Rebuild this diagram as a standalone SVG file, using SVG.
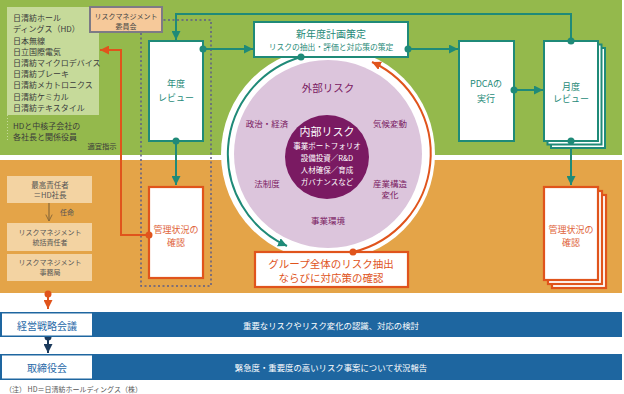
<svg xmlns="http://www.w3.org/2000/svg" width="624" height="394" viewBox="0 0 624 394">
<style>
text{font-family:"Noto Sans CJK JP","Noto Sans",sans-serif;text-anchor:middle;dominant-baseline:central}
.l{text-anchor:start}
.box{fill:#fff;stroke:#1f8a78;stroke-width:2}
.obox{fill:#fff;stroke:#e0541c;stroke-width:2.2}
.peach{fill:#f3d3a2}
.tt{fill:#1f8a78;font-size:9px}
.ot{fill:#e0643a;font-size:9px}
.list{fill:#3a3a3a;font-size:8px}
.pt{fill:#7a1a62;font-size:8.5px}
.wt{fill:#fff;font-size:7.5px}
.lt{fill:#555;font-size:7px}
.teal{fill:none;stroke:#1f8a78;stroke-width:2}
.or{fill:none;stroke:#e0541c;stroke-width:2}
.dotT{fill:#1f8a78}
.dotO{fill:#e0541c}
</style>
<defs>
<marker id="aT" viewBox="0 0 10 10" refX="10" refY="5" markerWidth="9" markerHeight="9" markerUnits="userSpaceOnUse" orient="auto"><path d="M0,0 L10,5 L0,10 z" fill="#1f8a78"/></marker>
<marker id="aO" viewBox="0 0 10 10" refX="10" refY="5" markerWidth="9" markerHeight="9" markerUnits="userSpaceOnUse" orient="auto"><path d="M0,0 L10,5 L0,10 z" fill="#e0541c"/></marker>
<marker id="aN" viewBox="0 0 10 10" refX="10" refY="5" markerWidth="9" markerHeight="9" markerUnits="userSpaceOnUse" orient="auto"><path d="M0,0 L10,5 L0,10 z" fill="#1b3a5c"/></marker>
<marker id="aB" viewBox="0 0 10 10" refX="9" refY="5" markerWidth="8" markerHeight="8" markerUnits="userSpaceOnUse" orient="auto"><path d="M1,1 L9,5 L1,9" fill="none" stroke="#8a6a3a" stroke-width="1.2"/></marker>
</defs>

<g id="backgrounds">
<rect x="0" y="0" width="622" height="155" fill="#94b94c"/>
<rect x="0" y="160" width="622" height="133" fill="#e4a448"/>
<rect x="7" y="7" width="92" height="108" fill="#c6da9a"/>
<line x1="7.5" y1="115" x2="7.5" y2="141" stroke="#c6da9a" stroke-dasharray="1 2"/>
<rect x="141" y="20" width="70" height="266" fill="none" stroke="#5e5e86" stroke-width="1.5" stroke-dasharray="2 2.5"/>
</g>

<g id="companies">
<text class="list l" x="13" y="17">日清紡ホール</text>
<text class="list l" x="13" y="28">ディングス（HD）</text>
<text class="list l" x="13" y="40">日本無線</text>
<text class="list l" x="13" y="51">日立国際電気</text>
<text class="list l" x="13" y="62">日清紡マイクロデバイス</text>
<text class="list l" x="13" y="73">日清紡ブレーキ</text>
<text class="list l" x="13" y="84">日清紡メカトロニクス</text>
<text class="list l" x="13" y="96">日清紡ケミカル</text>
<text class="list l" x="13" y="107">日清紡テキスタイル</text>
<text class="list l" x="13" y="125">HDと中核子会社の</text>
<text class="list l" x="13" y="136">各社長と関係役員</text>
<text class="list" x="102" y="146" style="font-size:7.3px">適宜指示</text>
</g>

<g id="committee">
<rect x="90" y="7" width="72" height="25" fill="#f6c99a" stroke="#7d7a85" stroke-width="2"/>
<text x="126" y="16" style="fill:#444;font-size:7px">リスクマネジメント</text>
<text x="126" y="26" style="fill:#444;font-size:7px">委員会</text>
</g>

<g id="connectors">
<path class="teal" d="M571,41 V14 H176 V40" marker-end="url(#aT)"/>
<line class="teal" x1="203" y1="49" x2="253" y2="49" marker-end="url(#aT)"/>
<line class="teal" x1="408" y1="49" x2="458" y2="49" marker-end="url(#aT)"/>
<line class="teal" x1="514" y1="90" x2="543" y2="90" marker-end="url(#aT)"/>
<line class="teal" x1="176" y1="141" x2="176" y2="185" marker-end="url(#aT)"/>
<line class="teal" x1="571" y1="141" x2="571" y2="185" marker-end="url(#aT)"/>
<path class="or" d="M149,235 H121 V50 H100" marker-end="url(#aO)"/>
<path fill="none" stroke="#e0541c" stroke-width="2" d="M48,294 V309" marker-end="url(#aO)"/>
<path fill="none" stroke="#1b3a5c" stroke-width="2" d="M48,337 V353" marker-end="url(#aN)"/>
<line x1="49" y1="203" x2="49" y2="221" stroke="#8a6a3a" stroke-width="1.2" marker-end="url(#aB)"/>
</g>

<g id="risk-circle">
<circle cx="328" cy="154" r="107" fill="#fff"/>
<circle cx="328" cy="154" r="94" fill="#dcc5dc"/>
<circle cx="327" cy="157" r="42" fill="#7a1a62"/>
<text class="pt" x="328" y="87" style="font-size:10.5px">外部リスク</text>
<text class="pt" x="267" y="123">政治・経済</text>
<text class="pt" x="390" y="123">気候変動</text>
<text class="pt" x="267" y="183">法制度</text>
<text class="pt" x="390" y="183">産業構造</text>
<text class="pt" x="390" y="194">変化</text>
<text class="pt" x="328" y="220">事業環境</text>
<text x="327" y="131" style="fill:#fff;font-size:11px">内部リスク</text>
<text class="wt" x="327" y="145">事業ポートフォリオ</text>
<text class="wt" x="327" y="157">設備投資／R&amp;D</text>
<text class="wt" x="327" y="169">人材確保／育成</text>
<text class="wt" x="327" y="181">ガバナンスなど</text>
</g>

<g id="cycle-arcs">
<path class="teal" d="M301,57 A101,101 0 0 0 287,246" marker-end="url(#aT)"/>
<path class="or" d="M353,252 A101,101 0 0 0 372,62" marker-end="url(#aO)"/>
</g>

<g id="annual-review">
<rect class="box" x="149" y="41" width="54" height="100"/>
<text class="tt" x="176" y="83">年度</text>
<text class="tt" x="176" y="97">レビュー</text>
</g>

<g id="new-plan">
<rect class="box" x="254" y="22" width="154" height="35"/>
<text class="tt" x="331" y="33" style="font-size:10px">新年度計画策定</text>
<text class="tt" x="331" y="46" style="font-size:7.8px">リスクの抽出・評価と対応策の策定</text>
</g>

<g id="pdca">
<rect class="box" x="459" y="41" width="55" height="100"/>
<text class="tt" x="486" y="83">PDCAの</text>
<text class="tt" x="486" y="98">実行</text>
</g>

<g id="monthly-review">
<rect class="box" x="551" y="48" width="54" height="100"/>
<rect class="box" x="547.5" y="44.5" width="54" height="100"/>
<rect class="box" x="544" y="41" width="54" height="100"/>
<text class="tt" x="571" y="86">月度</text>
<text class="tt" x="571" y="98">レビュー</text>
</g>

<g id="check-left">
<rect class="obox" x="149" y="187" width="54" height="91"/>
<text class="ot" x="176" y="229">管理状況の</text>
<text class="ot" x="176" y="242">確認</text>
</g>

<g id="check-right">
<rect class="obox" x="552" y="195" width="54" height="93"/>
<rect class="obox" x="548" y="191" width="54" height="93"/>
<rect class="obox" x="544" y="187" width="54" height="93"/>
<text class="ot" x="571" y="229">管理状況の</text>
<text class="ot" x="571" y="242">確認</text>
</g>

<g id="group-check">
<rect class="obox" x="255" y="252" width="153" height="35"/>
<text x="331" y="263" style="fill:#e0541c;font-size:10.5px">グループ全体のリスク抽出</text>
<text x="331" y="277" style="fill:#e0541c;font-size:10.5px">ならびに対応策の確認</text>
</g>

<g id="roles">
<rect class="peach" x="7" y="176" width="85" height="27"/>
<text class="lt" x="50" y="184" style="font-size:7.5px">最高責任者</text>
<text class="lt" x="50" y="194" style="font-size:7.5px">＝HD社長</text>
<text class="lt" x="67" y="212">任命</text>
<rect class="peach" x="7" y="223" width="85" height="28"/>
<text class="lt" x="50" y="232">リスクマネジメント</text>
<text class="lt" x="50" y="242">統括責任者</text>
<rect class="peach" x="7" y="254" width="85" height="27"/>
<text class="lt" x="50" y="262">リスクマネジメント</text>
<text class="lt" x="50" y="272">事務局</text>
</g>

<g id="dots">
<circle class="dotT" cx="571" cy="41" r="3.5"/>
<circle class="dotT" cx="203" cy="49" r="3.5"/>
<circle class="dotT" cx="408" cy="49" r="3.5"/>
<circle class="dotT" cx="514" cy="90" r="3.5"/>
<circle class="dotT" cx="176" cy="141" r="3.5"/>
<circle class="dotT" cx="571" cy="141" r="3.5"/>
<circle class="dotT" cx="301" cy="57" r="3.5"/>
<circle class="dotO" cx="149" cy="235" r="3.5"/>
<circle class="dotO" cx="353" cy="252" r="3.5"/>
<circle class="dotO" cx="48" cy="294" r="3.5"/>
<circle cx="48" cy="337" r="3.5" fill="#1b3a5c"/>
</g>

<g id="management-meeting">
<rect x="0" y="312" width="622" height="25" fill="#1e66a0"/>
<rect x="2" y="313.5" width="90" height="22" fill="#fff"/>
<text x="47" y="325" style="fill:#2a6aa8;font-size:10px">経営戦略会議</text>
<text x="331" y="325" style="fill:#fff;font-size:8.4px">重要なリスクやリスク変化の認識、対応の検討</text>
</g>

<g id="board">
<rect x="0" y="354" width="622" height="26" fill="#1e66a0"/>
<rect x="2" y="355.5" width="90" height="23" fill="#fff"/>
<text x="47" y="367" style="fill:#2a6aa8;font-size:10px">取締役会</text>
<text x="331" y="367" style="fill:#fff;font-size:8.4px">緊急度・重要度の高いリスク事案について状況報告</text>
</g>

<text class="l" x="5" y="389" style="fill:#555;font-size:7px">（注） HD＝日清紡ホールディングス（株）</text>
</svg>
